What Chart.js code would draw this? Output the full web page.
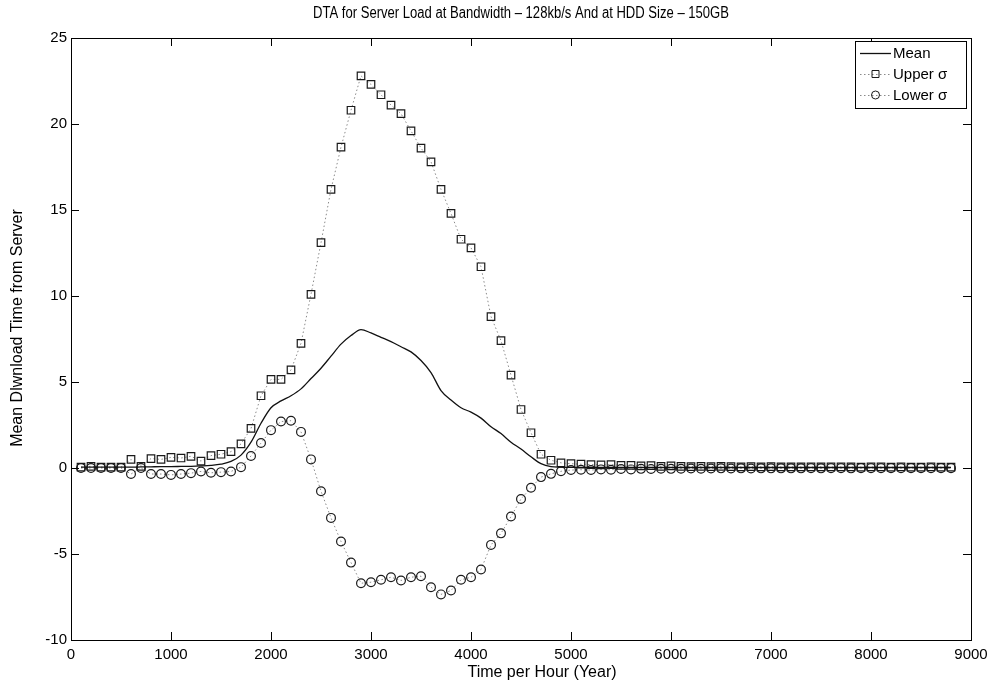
<!DOCTYPE html>
<html>
<head>
<meta charset="utf-8">
<title>DTA Server Load</title>
<script src="https://cdn.jsdelivr.net/npm/chart.js@4.4.1/dist/chart.umd.min.js"></script>
<style>
  html, body { margin: 0; padding: 0; background: #fff; }
  canvas { display: block; }
</style>
</head>
<body>
<canvas id="chart-dta" width="1001" height="688"></canvas>
<script>
// ====== DATA (one point per 100 h) ======
const hours = [
  100, 200, 300, 400, 500, 600, 700, 800, 900, 1000,
  1100, 1200, 1300, 1400, 1500, 1600, 1700, 1800, 1900, 2000,
  2100, 2200, 2300, 2400, 2500, 2600, 2700, 2800, 2900, 3000,
  3100, 3200, 3300, 3400, 3500, 3600, 3700, 3800, 3900, 4000,
  4100, 4200, 4300, 4400, 4500, 4600, 4700, 4800, 4900, 5000,
  5100, 5200, 5300, 5400, 5500, 5600, 5700, 5800, 5900, 6000,
  6100, 6200, 6300, 6400, 6500, 6600, 6700, 6800, 6900, 7000,
  7100, 7200, 7300, 7400, 7500, 7600, 7700, 7800, 7900, 8000,
  8100, 8200, 8300, 8400, 8500, 8600, 8700, 8800
];

const meanVals = [
  0.05, 0.05, 0.05, 0.05, 0.05, 0.05, 0.06, 0.07, 0.08, 0.08,
  0.09, 0.10, 0.12, 0.15, 0.22, 0.38, 0.75, 1.5, 2.6, 3.5,
  3.9, 4.2, 4.6, 5.2, 5.8, 6.5, 7.2, 7.7, 8.05, 7.85,
  7.6, 7.35, 7.05, 6.75, 6.25, 5.55, 4.5, 3.95, 3.5, 3.25,
  2.9, 2.4, 2.0, 1.5, 1.1, 0.65, 0.25, 0.08, 0.05, 0.04,
  0.04, 0.04, 0.04, 0.03, 0.03, 0.03, 0.03, 0.03, 0.03, 0.03,
  0.03, 0.03, 0.03, 0.03, 0.03, 0.03, 0.03, 0.03, 0.03, 0.03,
  0.03, 0.03, 0.03, 0.03, 0.03, 0.03, 0.03, 0.03, 0.03, 0.03,
  0.03, 0.03, 0.03, 0.03, 0.03, 0.03, 0.03, 0.03
];

const upperVals = [
  0.05, 0.10, 0.05, 0.05, 0.05, 0.50, 0.10, 0.55, 0.50, 0.62,
  0.58, 0.68, 0.40, 0.72, 0.80, 0.95, 1.4, 2.3, 4.2, 5.15,
  5.15, 5.7, 7.25, 10.1, 13.1, 16.2, 18.65, 20.8, 22.8, 22.3,
  21.7, 21.1, 20.6, 19.6, 18.6, 17.8, 16.2, 14.8, 13.3, 12.8,
  11.7, 8.8, 7.4, 5.4, 3.4, 2.05, 0.8, 0.45, 0.30, 0.25,
  0.22, 0.20, 0.18, 0.20, 0.15, 0.15, 0.12, 0.14, 0.10, 0.12,
  0.10, 0.08, 0.10, 0.08, 0.10, 0.08, 0.06, 0.08, 0.07, 0.08,
  0.06, 0.07, 0.06, 0.06, 0.07, 0.06, 0.06, 0.06, 0.05, 0.06,
  0.06, 0.05, 0.06, 0.05, 0.05, 0.06, 0.05, 0.05
];

const lowerVals = [
  0.0, 0.0, 0.0, 0.0, 0.0, -0.35, 0.0, -0.35, -0.35, -0.40,
  -0.35, -0.30, -0.20, -0.28, -0.24, -0.20, 0.05, 0.7, 1.45, 2.2,
  2.7, 2.75, 2.1, 0.5, -1.35, -2.9, -4.27, -5.5, -6.7, -6.64,
  -6.5, -6.35, -6.54, -6.35, -6.29, -6.93, -7.35, -7.12, -6.5, -6.35,
  -5.9, -4.47, -3.8, -2.82, -1.8, -1.15, -0.53, -0.34, -0.19, -0.12,
  -0.10, -0.12, -0.08, -0.10, -0.06, -0.08, -0.05, -0.06, -0.04, -0.05,
  -0.04, -0.03, -0.04, -0.03, -0.02, -0.03, -0.02, -0.03, -0.02, -0.02,
  -0.02, -0.02, -0.02, -0.01, -0.02, -0.01, -0.01, -0.02, -0.01, -0.01,
  -0.01, -0.01, -0.01, -0.01, -0.01, -0.01, -0.01, -0.01
];

const seriesNames = ["Mean", "Upper \u03c3", "Lower \u03c3"];
const xTicks = [0, 1000, 2000, 3000, 4000, 5000, 6000, 7000, 8000, 9000];
const yTicks = [-10, -5, 0, 5, 10, 15, 20, 25];

const titleText = "DTA for Server Load at Bandwidth \u2013 128kb/s And at HDD Size \u2013 150GB";
const xLabel = "Time per Hour (Year)";
const yLabel = "Mean Dlwnload Time from Server";

const FONT = "'Liberation Sans', Arial, Helvetica, sans-serif";

function toPoints(vals) {
    return hours.map((h, i) => ({ x: h, y: vals[i] }));
}

// ====== MATLAB style box + inward ticks ======
const boxTicksPlugin = {
    id: "boxTicks",
    afterDatasetsDraw(chart) {
        const ctx = chart.ctx;
        const { left, right, top, bottom } = chart.chartArea;
        const xs = chart.scales.x;
        const ys = chart.scales.y;
        const len = 8;
        ctx.save();
        ctx.strokeStyle = "#000";
        ctx.lineWidth = 1;
        ctx.beginPath();
        xTicks.forEach(v => {
            const px = Math.round(xs.getPixelForValue(v)) + 0.5;
            ctx.moveTo(px, bottom); ctx.lineTo(px, bottom - len);
            ctx.moveTo(px, top); ctx.lineTo(px, top + len);
        });
        yTicks.forEach(v => {
            const py = Math.round(ys.getPixelForValue(v)) + 0.5;
            ctx.moveTo(left, py); ctx.lineTo(left + len, py);
            ctx.moveTo(right, py); ctx.lineTo(right - len, py);
        });
        ctx.stroke();
        ctx.strokeRect(Math.round(left) + 0.5, Math.round(top) + 0.5,
            Math.round(right - left), Math.round(bottom - top));
        ctx.restore();
    }
};

// ====== title + axis labels (squeezed like the scanned figure) ======
const labelsPlugin = {
    id: "labels",
    afterDraw(chart) {
        const ctx = chart.ctx;
        const { left, right } = chart.chartArea;
        ctx.save();
        ctx.fillStyle = "#000";
        ctx.textAlign = "center";
        ctx.textBaseline = "middle";

        ctx.font = "16px " + FONT;
        ctx.fillText(titleText, (left + right) / 2, 14, 416);

        ctx.font = "16px " + FONT;
        ctx.fillText(xLabel, 542, 673, 157);

        ctx.translate(18, 328);
        ctx.rotate(-Math.PI / 2);
        ctx.fillText(yLabel, 0, 0, 258);
        ctx.restore();
    }
};

// ====== legend box in the top right corner ======
const boxLegendPlugin = {
    id: "boxLegend",
    afterDraw(chart) {
        const ctx = chart.ctx;
        const bx = 855, by = 41, bw = 111, bh = 67;
        ctx.save();
        ctx.fillStyle = "#fff";
        ctx.fillRect(bx, by, bw, bh);
        ctx.strokeStyle = "#000";
        ctx.lineWidth = 1;
        ctx.strokeRect(bx + 0.5, by + 0.5, bw, bh);
        ctx.font = "15px " + FONT;
        ctx.textBaseline = "middle";
        chart.data.datasets.forEach((ds, i) => {
            const y = by + 12 + i * 21;
            ctx.strokeStyle = ds.borderColor;
            ctx.lineWidth = ds.borderWidth;
            ctx.setLineDash(ds.borderDash || []);
            ctx.beginPath();
            ctx.moveTo(860, y + 0.5);
            ctx.lineTo(891, y + 0.5);
            ctx.stroke();
            ctx.setLineDash([]);
            if (ds.pointRadius > 0) {
                ctx.strokeStyle = ds.pointBorderColor;
                ctx.lineWidth = 1;
                ctx.beginPath();
                if (ds.pointStyle === "rect") {
                    ctx.rect(875.5 - 3.5, y - 3.5, 7, 7);
                } else {
                    ctx.arc(875.5, y, 4, 0, Math.PI * 2);
                }
                ctx.stroke();
            }
            ctx.fillStyle = "#000";
            ctx.textAlign = "left";
            ctx.fillText(ds.label, 893, y + 1);
        });
        ctx.restore();
    }
};

const ctxDta = document.getElementById("chart-dta").getContext("2d");
const chartDta = new Chart(ctxDta, {
    type: "line",
    data: {
        datasets: [
            {
                label: seriesNames[0],
                data: toPoints(meanVals),
                borderColor: "#111",
                borderWidth: 1.3,
                pointRadius: 0,
                cubicInterpolationMode: "monotone"
            },
            {
                label: seriesNames[1],
                data: toPoints(upperVals),
                borderColor: "#8a8a8a",
                borderWidth: 1,
                borderDash: [1.5, 2.5],
                pointStyle: "rect",
                pointRadius: 5.3,
                pointBorderColor: "#1a1a1a",
                pointBackgroundColor: "rgba(0,0,0,0)",
                pointBorderWidth: 1.2
            },
            {
                label: seriesNames[2],
                data: toPoints(lowerVals),
                borderColor: "#8a8a8a",
                borderWidth: 1,
                borderDash: [1.5, 2.5],
                pointStyle: "circle",
                pointRadius: 4.4,
                pointBorderColor: "#1a1a1a",
                pointBackgroundColor: "rgba(0,0,0,0)",
                pointBorderWidth: 1.2
            }
        ]
    },
    options: {
        responsive: false,
        animation: false,
        layout: { padding: { left: 0, right: 30, top: 38, bottom: 0 } },
        plugins: {
            legend: { display: false },
            tooltip: { enabled: false },
            title: { display: false }
        },
        scales: {
            x: {
                type: "linear",
                min: 0,
                max: 9000,
                afterFit: s => { s.height = 48; },
                afterBuildTicks: s => { s.ticks = xTicks.map(v => ({ value: v })); },
                grid: { display: false, drawTicks: false },
                border: { display: false },
                ticks: {
                    color: "#000",
                    padding: 6,
                    maxRotation: 0,
                    font: { family: FONT, size: 15 },
                    callback: v => String(v)
                }
            },
            y: {
                type: "linear",
                min: -10,
                max: 25,
                afterFit: s => { s.width = 71; },
                afterBuildTicks: s => { s.ticks = yTicks.map(v => ({ value: v })); },
                grid: { display: false, drawTicks: false },
                border: { display: false },
                ticks: {
                    color: "#000",
                    padding: 4,
                    font: { family: FONT, size: 15 },
                    callback: v => String(v)
                }
            }
        }
    },
    plugins: [boxTicksPlugin, labelsPlugin, boxLegendPlugin]
});
</script>
</body>
</html>
